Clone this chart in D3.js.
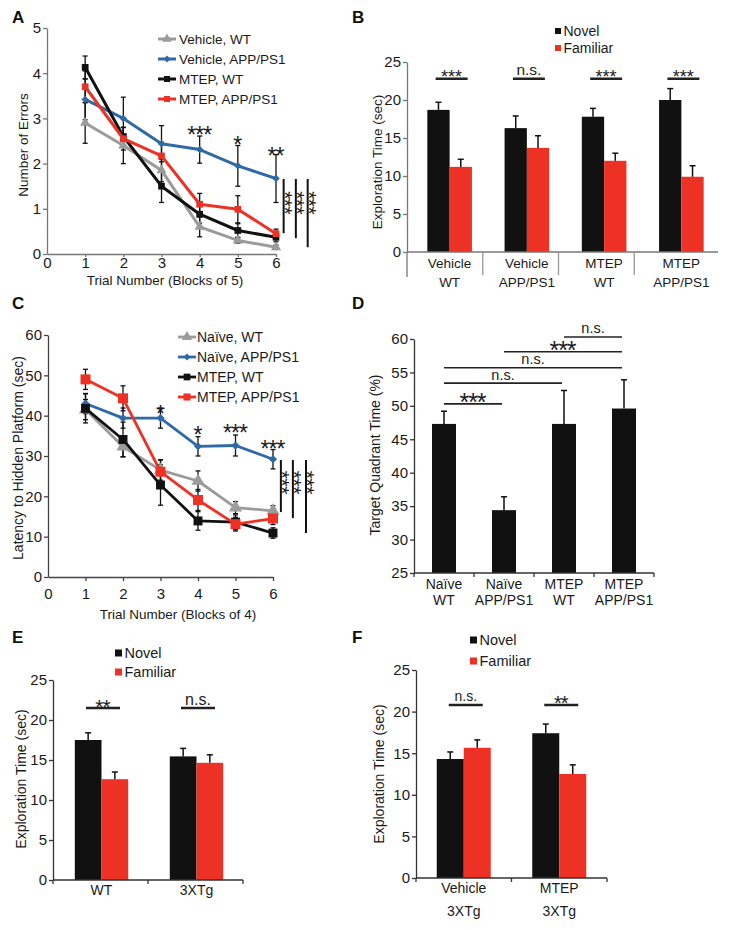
<!DOCTYPE html>
<html><head><meta charset="utf-8">
<script src="https://cdn.jsdelivr.net/npm/d3@7"></script>
<style>body{margin:0;background:#fff}svg{display:block}</style>
</head><body>
<svg id="fig" width="729" height="930"></svg>
<script>
// ---------------- DATA ----------------
// Panel A: radial arm water maze errors
const trialBlocksA = [1, 2, 3, 4, 5, 6];
const xTicksA = [0, 1, 2, 3, 4, 5, 6];
const yTicksA = [0, 1, 2, 3, 4, 5];
const groupNamesA = ["Vehicle, WT", "Vehicle, APP/PS1", "MTEP, WT", "MTEP, APP/PS1"];
const vehicleWT_A = [2.9, 2.4, 1.85, 0.6, 0.3, 0.15];
const vehicleWT_semA = [0.45, 0.4, 0.25, 0.22, 0.06, 0.05];
const vehicleAPP_A = [3.42, 3.0, 2.44, 2.31, 1.95, 1.67];
const vehicleAPP_semA = [0.45, 0.47, 0.4, 0.3, 0.45, 0.53];
const mtepWT_A = [4.13, 2.6, 1.5, 0.88, 0.52, 0.37];
const mtepWT_semA = [0.25, 0.2, 0.36, 0.2, 0.15, 0.1];
const mtepAPP_A = [3.7, 2.55, 2.17, 1.1, 0.99, 0.45];
const mtepAPP_semA = [0.35, 0.25, 0.3, 0.24, 0.3, 0.1];
const sigPointsA = [{x: 4, y: 2.74, label: "***"}, {x: 5, y: 2.52, label: "*"}, {x: 6, y: 2.28, label: "**"}];
const bracketsA = [{x: 6.2, from: 1.66, to: 0.46, mid: 1.13}, {x: 6.52, from: 1.66, to: 0.35, mid: 1.13}, {x: 6.83, from: 1.66, to: 0.15, mid: 1.13}];

// Panel B: novel object recognition
const groupsB = ["Vehicle WT", "Vehicle APP/PS1", "MTEP WT", "MTEP APP/PS1"];
const groupLabelsB = [["Vehicle", "WT"], ["Vehicle", "APP/PS1"], ["MTEP", "WT"], ["MTEP", "APP/PS1"]];
const novelB = [18.7, 16.3, 17.8, 20.0];
const novelSemB = [1.0, 1.6, 1.1, 1.5];
const familiarB = [11.2, 13.7, 12.0, 9.9];
const familiarSemB = [1.0, 1.6, 1.0, 1.45];
const sigLabelsB = ["***", "n.s.", "***", "***"];
const sigLevelB = 22.8;
const yTicksB = [0, 5, 10, 15, 20, 25];

// Panel C: Morris water maze latency
const trialBlocksC = [1, 2, 3, 4, 5, 6];
const xTicksC = [0, 1, 2, 3, 4, 5, 6];
const yTicksC = [0, 10, 20, 30, 40, 50, 60];
const groupNamesC = ["Naïve, WT", "Naïve, APP/PS1", "MTEP, WT", "MTEP, APP/PS1"];
const naiveWT_C = [41.5, 32.3, 26.5, 23.8, 17.2, 16.4];
const naiveWT_semC = [2.5, 2.5, 2.5, 2.5, 1.5, 1.3];
const naiveAPP_C = [43.0, 39.4, 39.4, 32.4, 32.6, 29.2];
const naiveAPP_semC = [2.5, 2.5, 2.5, 2.4, 2.6, 2.4];
const mtepWT_C = [41.8, 34.1, 22.8, 13.9, 13.6, 10.9];
const mtepWT_semC = [3.6, 4.3, 5.0, 2.3, 1.8, 1.3];
const mtepAPP_C = [49.0, 44.3, 26.1, 19.1, 13.1, 14.5];
const mtepAPP_semC = [2.5, 3.1, 3.0, 2.6, 1.7, 1.5];
const sigPointsC = [{x: 3, y: 41.8, label: "*"}, {x: 4, y: 36.4, label: "*"}, {x: 5, y: 36.9, label: "***"}, {x: 6, y: 33.0, label: "***"}];
const bracketsC = [{x: 6.21, from: 29.0, to: 16.1, mid: 23.4}, {x: 6.53, from: 29.0, to: 14.6, mid: 23.4}, {x: 6.88, from: 29.0, to: 10.9, mid: 23.4}];

// Panel D: probe trial
const groupsD = ["Naïve WT", "Naïve APP/PS1", "MTEP WT", "MTEP APP/PS1"];
const groupLabelsD = [["Naïve", "WT"], ["Naïve", "APP/PS1"], ["MTEP", "WT"], ["MTEP", "APP/PS1"]];
const targetD = [47.3, 34.4, 47.3, 49.6];
const targetSemD = [1.9, 2.0, 5.0, 4.3];
const yTicksD = [25, 30, 35, 40, 45, 50, 55, 60];
const comparisonsD = [
  {from: 0, to: 1, level: 50.3, label: "***"},
  {from: 0, to: 2, level: 53.4, label: "n.s."},
  {from: 0, to: 3, level: 55.7, label: "n.s."},
  {from: 1, to: 3, level: 58.1, label: "***"},
  {from: 2, to: 3, level: 60.3, label: "n.s."}
];

// Panel E: 3XTg novel object recognition
const groupsE = ["WT", "3XTg"];
const groupLabelsE = [["WT"], ["3XTg"]];
const novelE = [17.5, 15.45];
const novelSemE = [0.9, 1.0];
const familiarE = [12.6, 14.65];
const familiarSemE = [0.9, 1.0];
const sigLabelsE = ["**", "n.s."];
const sigLevelE = 21.5;
const yTicksE = [0, 5, 10, 15, 20, 25];

// Panel F: 3XTg treated
const groupsF = ["Vehicle 3XTg", "MTEP 3XTg"];
const groupLabelsF = [["Vehicle", "3XTg"], ["MTEP", "3XTg"]];
const novelF = [14.3, 17.4];
const novelSemF = [0.85, 1.1];
const familiarF = [15.65, 12.5];
const familiarSemF = [0.95, 1.1];
const sigLabelsF = ["n.s.", "**"];
const sigLevelF = 20.8;
const yTicksF = [0, 5, 10, 15, 20, 25];

const seriesNames = ["Novel", "Familiar"];

// ---------------- DRAWING ----------------
const FONT = '"Liberation Sans", Arial, Helvetica, sans-serif';
const C_GRAY = "#9b9b9b", C_BLUE = "#2f6aa6", C_BLACK = "#111111", C_RED = "#ed3124";
const fmtInt = d3.format("d");
const svg = d3.select("#fig");

function txt(g, x, y, s, fs, o = {}) {
  return g.append("text").attr("x", x).attr("y", y).text(s)
    .attr("font-family", FONT).attr("font-size", fs)
    .attr("text-anchor", o.anchor || "start").attr("fill", o.fill || "#1a1a1a")
    .attr("font-weight", o.weight || "normal")
    .attr("letter-spacing", o.ls || 0);
}
function star(g, cx, cy, s, fs, ls = 0) {
  return txt(g, cx + ls / 2, cy + 0.57 * fs, s, fs, {anchor: "middle", ls: ls});
}
// rotated "***" (reads top to bottom), glyphs centred on (cx, cy)
function vstar(g, cx, cy, s, fs, ls = 0) {
  g.append("text").attr("transform", `translate(${cx - 0.57 * fs},${cy + ls / 2}) rotate(90)`)
    .attr("font-family", FONT).attr("font-size", fs).attr("text-anchor", "middle")
    .attr("letter-spacing", ls).attr("fill", "#1a1a1a").style("opacity", 0.99).text(s);
}
function ylabel(g, bx, cy, s, fs) {
  g.append("text").attr("transform", `translate(${bx},${cy}) rotate(-90)`)
    .attr("font-family", FONT).attr("font-size", fs).attr("text-anchor", "middle")
    .attr("fill", "#1a1a1a").text(s);
}
function styleAxis(sel, color, fs) {
  sel.attr("font-family", FONT).attr("font-size", fs);
  sel.select(".domain").attr("stroke", color).attr("stroke-width", 1.3);
  sel.selectAll(".tick line").attr("stroke", color).attr("stroke-width", 1.3);
  sel.selectAll(".tick text").attr("fill", "#1a1a1a");
}
function marker(g, shape, cx, cy, size, color) {
  const sym = shape === "triangle" ? d3.symbolTriangle : d3.symbolSquare;
  g.append("path").attr("d", d3.symbol(sym, size)()).attr("fill", color)
    .attr("transform", `translate(${cx},${cy})` + (shape === "diamond" ? " rotate(45)" : ""));
}
function panelLetter(x, y, s) { txt(svg, x, y, s, 17, {weight: "bold", fill: "#111"}); }

function linePanel(o) {
  const g = svg.append("g");
  const x = d3.scaleLinear().domain(o.xDomain).range(o.xRange);
  const y = d3.scaleLinear().domain(o.yDomain).range(o.yRange);
  const ya = g.append("g").attr("transform", `translate(${o.xRange[0]},0)`)
    .call(d3.axisLeft(y).tickValues(o.yTicks).tickFormat(fmtInt).tickSize(4).tickSizeOuter(0).tickPadding(2));
  styleAxis(ya, o.axisColor, 15);
  const xa = g.append("g").attr("transform", `translate(0,${o.yRange[0]})`)
    .call(d3.axisBottom(x).tickValues(o.xTicks).tickFormat(fmtInt).tickSize(o.xTickSize).tickSizeOuter(0).tickPadding(o.xTickPad));
  styleAxis(xa, o.axisColor, 15);
  xa.selectAll(".tick").filter(d => d === 0).select("line").remove();

  o.series.forEach(s => {
    o.xs.forEach((xv, i) => {
      const cx = x(xv), y0 = y(s.values[i] - s.errs[i]), y1 = y(s.values[i] + s.errs[i]);
      g.append("line").attr("x1", cx).attr("x2", cx).attr("y1", y0).attr("y2", y1).attr("stroke", "#111").attr("stroke-width", 1.3);
      [y0, y1].forEach(yy => g.append("line").attr("x1", cx - 2.5).attr("x2", cx + 2.5).attr("y1", yy).attr("y2", yy).attr("stroke", "#111").attr("stroke-width", 1.3));
    });
  });
  o.series.forEach(s => {
    const pts = o.xs.map((xv, i) => [x(xv), y(s.values[i])]);
    g.append("path").attr("d", d3.line()(pts)).attr("fill", "none").attr("stroke", s.color).attr("stroke-width", o.lineW).attr("stroke-linejoin", "round");
    pts.forEach(p => marker(g, s.shape, p[0], p[1], s.size, s.color));
  });
  o.series.forEach((s, i) => {
    const ly = o.legend.y + i * o.legend.dy;
    g.append("line").attr("x1", o.legend.x0).attr("x2", o.legend.x1).attr("y1", ly).attr("y2", ly).attr("stroke", s.color).attr("stroke-width", o.lineW);
    marker(g, s.shape, (o.legend.x0 + o.legend.x1) / 2, ly, s.legSize, s.color);
    txt(g, o.legend.tx, ly + 5, s.name, o.legend.fs);
  });
  o.sig.forEach(d => star(g, x(d.x), y(d.y), d.label, o.starFs, -1));
  o.brackets.forEach(b => {
    g.append("line").attr("x1", x(b.x)).attr("x2", x(b.x)).attr("y1", y(b.from)).attr("y2", y(b.to)).attr("stroke", "#111").attr("stroke-width", 2);
    vstar(g, x(b.x) + 6, y(b.mid), "***", o.vStarFs, -0.5);
  });
  return {g, x, y};
}

function barPanel(o) {
  const g = svg.append("g");
  const x0 = d3.scaleBand().domain(o.groups).range(o.bandRange);
  const pairW = o.barW * o.series.length;
  const x1 = d3.scaleBand().domain(o.series.map(s => s.name)).range([-pairW / 2, pairW / 2]);
  const y = d3.scaleLinear().domain(o.yDomain).range(o.yRange);
  const base = o.yRange[0];
  o.series.forEach(s => {
    o.groups.forEach((grp, i) => {
      const bx = x0(grp) + x0.bandwidth() / 2 + x1(s.name);
      g.append("rect").attr("x", bx).attr("width", x1.bandwidth()).attr("y", y(s.values[i])).attr("height", base - y(s.values[i])).attr("fill", s.color);
      const cx = bx + x1.bandwidth() / 2, yt = y(s.values[i] + s.errs[i]);
      g.append("line").attr("x1", cx).attr("x2", cx).attr("y1", y(s.values[i])).attr("y2", yt).attr("stroke", "#111").attr("stroke-width", 1.5);
      g.append("line").attr("x1", cx - 3).attr("x2", cx + 3).attr("y1", yt).attr("y2", yt).attr("stroke", "#111").attr("stroke-width", 1.5);
    });
  });
  const ya = g.append("g").attr("transform", `translate(${o.axisX[0]},0)`)
    .call(d3.axisLeft(y).tickValues(o.yTicks).tickFormat(fmtInt).tickSize(4).tickSizeOuter(0).tickPadding(2));
  styleAxis(ya, o.axisColor, 15);
  g.append("line").attr("x1", o.axisX[0]).attr("x2", o.axisX[1]).attr("y1", base).attr("y2", base).attr("stroke", o.axisColor).attr("stroke-width", 1.3);
  return {g, x0, y, center: grp => x0(grp) + x0.bandwidth() / 2};
}

function groupedSig(p, groups, labels, level, half, o) {
  groups.forEach((grp, i) => {
    const cx = p.center(grp) + (o.shift || 0), ly = p.y(level);
    p.g.append("line").attr("x1", cx - half).attr("x2", cx + half).attr("y1", ly).attr("y2", ly).attr("stroke", "#222").attr("stroke-width", o.lw);
    if (labels[i].startsWith("*")) star(p.g, cx, ly - 6.3, labels[i], o.starFs, o.starLs || 0);
    else txt(p.g, cx, ly - 3.5, labels[i], o.nsFs, {anchor: "middle"});
  });
}
function categoryLabels(p, groups, lines, baselines, fs) {
  groups.forEach((grp, i) => lines[i].forEach((s, j) => txt(p.g, p.center(grp), baselines[j], s, fs, {anchor: "middle"})));
}
function squareLegend(g, x, ys, names, colors, sq, fs) {
  names.forEach((n, i) => {
    g.append("rect").attr("x", x).attr("y", ys[i] - sq / 2).attr("width", sq).attr("height", sq).attr("fill", colors[i]);
    txt(g, x + sq + 2.5, ys[i] + 5, n, fs);
  });
}

// ---------- Panel A ----------
panelLetter(12, 23, "A");
const pA = linePanel({
  xDomain: [0, 6], xRange: [47, 276], yDomain: [0, 5], yRange: [254, 28],
  xTicks: xTicksA, yTicks: yTicksA, xTickSize: 3, xTickPad: 0, axisColor: "#777",
  xs: trialBlocksA, lineW: 3,
  series: [
    {name: groupNamesA[0], values: vehicleWT_A, errs: vehicleWT_semA, color: C_GRAY, shape: "triangle", size: 45, legSize: 40},
    {name: groupNamesA[1], values: vehicleAPP_A, errs: vehicleAPP_semA, color: C_BLUE, shape: "diamond", size: 28, legSize: 24},
    {name: groupNamesA[2], values: mtepWT_A, errs: mtepWT_semA, color: C_BLACK, shape: "square", size: 45, legSize: 36},
    {name: groupNamesA[3], values: mtepAPP_A, errs: mtepAPP_semA, color: C_RED, shape: "square", size: 45, legSize: 36}
  ],
  legend: {x0: 158, x1: 176, tx: 179, y: 39, dy: 20, fs: 13.5},
  sig: sigPointsA, brackets: bracketsA, starFs: 23, vStarFs: 21
});
txt(pA.g, 165, 285, "Trial Number (Blocks of 5)", 13.5, {anchor: "middle"});
ylabel(pA.g, 28, 145, "Number of Errors", 13.5);

// ---------- Panel B ----------
panelLetter(352, 23, "B");
const pB = barPanel({
  groups: groupsB, bandRange: [411, 720], barW: 22.3,
  series: [
    {name: seriesNames[0], values: novelB, errs: novelSemB, color: C_BLACK},
    {name: seriesNames[1], values: familiarB, errs: familiarSemB, color: C_RED}
  ],
  yDomain: [0, 25], yRange: [252, 62], yTicks: yTicksB, axisX: [407, 718], axisColor: "#777"
});
pB.g.append("line").attr("x1", 407).attr("x2", 407).attr("y1", 252).attr("y2", 277).attr("stroke", "#777").attr("stroke-width", 1.3);
const sepB = d3.scaleLinear().domain([0, 4]).range([407, 710]);
[1, 2, 3].forEach(i => pB.g.append("line").attr("x1", sepB(i)).attr("x2", sepB(i)).attr("y1", 252).attr("y2", 275).attr("stroke", "#999").attr("stroke-width", 1.3));
categoryLabels(pB, groupsB, groupLabelsB, [268, 287], 13.5);
groupedSig(pB, groupsB, sigLabelsB, sigLevelB, 16, {shift: 2, lw: 2.5, starFs: 18, nsFs: 15.5});
squareLegend(pB.g, 555, [31, 48], seriesNames, [C_BLACK, C_RED], 6, 14);
ylabel(pB.g, 382, 162, "Exploration Time (sec)", 13.5);

// ---------- Panel C ----------
panelLetter(12, 309, "C");
const pC = linePanel({
  xDomain: [0, 6], xRange: [48, 273], yDomain: [0, 60], yRange: [577, 335],
  xTicks: xTicksC, yTicks: yTicksC, xTickSize: 4, xTickPad: 7, axisColor: "#444",
  xs: trialBlocksC, lineW: 2.8,
  series: [
    {name: groupNamesC[0], values: naiveWT_C, errs: naiveWT_semC, color: C_GRAY, shape: "triangle", size: 75, legSize: 45},
    {name: groupNamesC[1], values: naiveAPP_C, errs: naiveAPP_semC, color: C_BLUE, shape: "diamond", size: 34, legSize: 26},
    {name: groupNamesC[2], values: mtepWT_C, errs: mtepWT_semC, color: C_BLACK, shape: "square", size: 80, legSize: 45},
    {name: groupNamesC[3], values: mtepAPP_C, errs: mtepAPP_semC, color: C_RED, shape: "square", size: 100, legSize: 50}
  ],
  legend: {x0: 178, x1: 196, tx: 197, y: 337, dy: 20, fs: 14},
  sig: sigPointsC, brackets: bracketsC, starFs: 23, vStarFs: 21
});
txt(pC.g, 178, 619, "Trial Number (Blocks of 4)", 13.5, {anchor: "middle"});
ylabel(pC.g, 23, 458, "Latency to Hidden Platform (sec)", 14);

// ---------- Panel D ----------
panelLetter(352, 309, "D");
const pD = barPanel({
  groups: groupsD, bandRange: [414, 654], barW: 24,
  series: [{name: "Target", values: targetD, errs: targetSemD, color: C_BLACK}],
  yDomain: [25, 60], yRange: [573, 339], yTicks: yTicksD, axisX: [414, 654], axisColor: "#333"
});
[0, 1, 2, 3, 4].forEach(i => {
  const xx = 414 + i * pD.x0.step();
  pD.g.append("line").attr("x1", xx).attr("x2", xx).attr("y1", 573).attr("y2", 577).attr("stroke", "#333").attr("stroke-width", 1.3);
});
categoryLabels(pD, groupsD, groupLabelsD, [589, 605], 14);
comparisonsD.forEach(c => {
  const xa = pD.center(groupsD[c.from]), xb = pD.center(groupsD[c.to]) - 2, ly = pD.y(c.level);
  pD.g.append("line").attr("x1", xa).attr("x2", xb).attr("y1", ly).attr("y2", ly).attr("stroke", "#222").attr("stroke-width", 1.6);
  if (c.label.startsWith("*")) star(pD.g, (xa + xb) / 2, ly - 7, c.label, 25, -1);
  else txt(pD.g, (xa + xb) / 2, ly - 3.5, c.label, 14.5, {anchor: "middle"});
});
ylabel(pD.g, 380, 455, "Target Quadrant Time (%)", 14);

// ---------- Panel E ----------
panelLetter(12, 643, "E");
const pE = barPanel({
  groups: groupsE, bandRange: [54, 244], barW: 26.7,
  series: [
    {name: seriesNames[0], values: novelE, errs: novelSemE, color: C_BLACK},
    {name: seriesNames[1], values: familiarE, errs: familiarSemE, color: C_RED}
  ],
  yDomain: [0, 25], yRange: [880, 680], yTicks: yTicksE, axisX: [53, 243], axisColor: "#333"
});
[0, 1, 2].forEach(i => {
  const xx = 53 + i * 95;
  pE.g.append("line").attr("x1", xx).attr("x2", xx).attr("y1", 880).attr("y2", 884).attr("stroke", "#333").attr("stroke-width", 1.3);
});
categoryLabels(pE, groupsE, groupLabelsE, [895], 14);
groupedSig(pE, groupsE, sigLabelsE, sigLevelE, 17, {shift: 1.5, lw: 2.5, starFs: 21, starLs: -1, nsFs: 16});
squareLegend(pE.g, 115, [653, 672], seriesNames, [C_BLACK, C_RED], 7, 14.5);
ylabel(pE.g, 26, 779, "Exploration Time (sec)", 14);

// ---------- Panel F ----------
panelLetter(352, 643, "F");
const pF = barPanel({
  groups: groupsF, bandRange: [416, 607], barW: 27,
  series: [
    {name: seriesNames[0], values: novelF, errs: novelSemF, color: C_BLACK},
    {name: seriesNames[1], values: familiarF, errs: familiarSemF, color: C_RED}
  ],
  yDomain: [0, 25], yRange: [878, 670], yTicks: yTicksF, axisX: [416, 607], axisColor: "#333"
});
[0, 1, 2].forEach(i => {
  const xx = 416 + i * pF.x0.step();
  pF.g.append("line").attr("x1", xx).attr("x2", xx).attr("y1", 878).attr("y2", 882).attr("stroke", "#333").attr("stroke-width", 1.3);
});
categoryLabels(pF, groupsF, groupLabelsF, [893, 916], 14);
groupedSig(pF, groupsF, sigLabelsF, sigLevelF, 17, {shift: 2, lw: 2.5, starFs: 20, starLs: -1, nsFs: 14});
squareLegend(pF.g, 470, [640, 661], seriesNames, [C_BLACK, C_RED], 7, 14.5);
ylabel(pF.g, 384, 774, "Exploration Time (sec)", 14);
</script>
</body></html>
